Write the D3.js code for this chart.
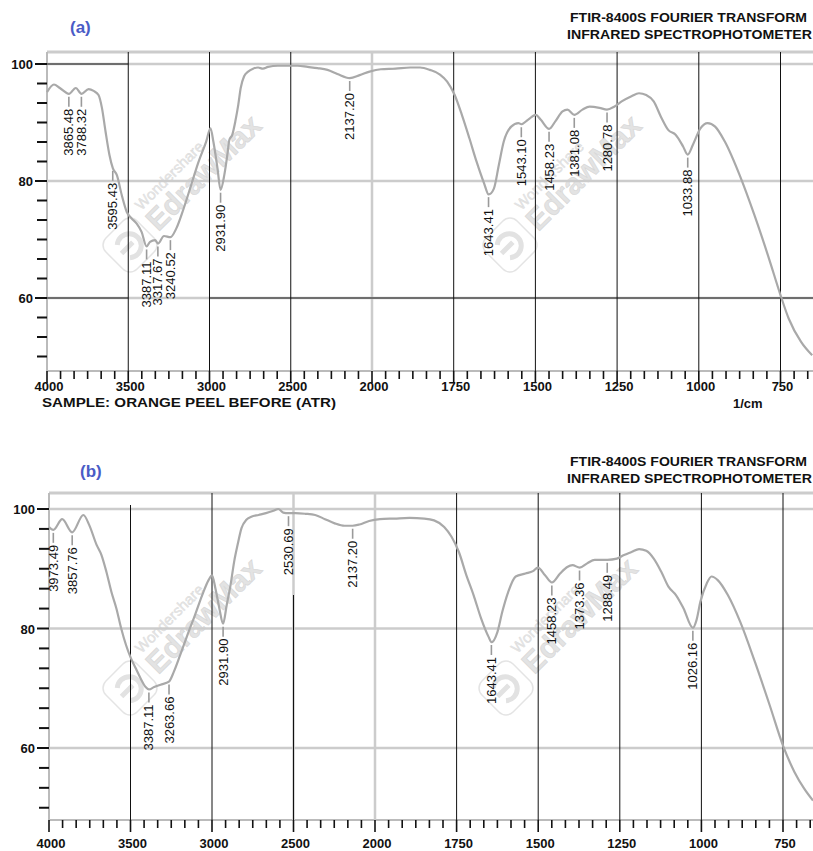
<!DOCTYPE html>
<html>
<head>
<meta charset="utf-8">
<script src="https://cdn.jsdelivr.net/npm/d3@7"></script>
<style>
body { margin: 0; background: #fff; }
svg { display: block; font-family: "Liberation Sans", Arial, sans-serif; }
</style>
</head>
<body>
<script>
// spectrum (a): orange peel before, wavenumber (1/cm) and %T
var wnA = [4000, 3957, 3921, 3865, 3823, 3788, 3744, 3713, 3683, 3662, 3640, 3616, 3595, 3570,
  3540, 3509, 3479, 3448, 3418, 3387, 3366, 3335, 3317, 3280, 3240, 3204, 3159, 3113, 3067,
  3021, 2994, 2976, 2951, 2932, 2909, 2890, 2878, 2860, 2841, 2823, 2808, 2787, 2762, 2732,
  2701, 2671, 2640, 2579, 2518, 2457, 2396, 2335, 2274, 2213, 2137, 2076, 2015, 1973, 1928,
  1883, 1853, 1823, 1792, 1770, 1747, 1725, 1702, 1680, 1657, 1643, 1627, 1612, 1597, 1574,
  1552, 1543, 1522, 1499, 1484, 1458, 1439, 1417, 1402, 1381, 1356, 1334, 1304, 1281, 1259,
  1236, 1206, 1183, 1161, 1138, 1116, 1093, 1071, 1048, 1034, 1018, 995, 973, 950, 920, 875,
  830, 785, 750, 725, 687, 653];
var tA = [95.2, 96.5, 95.9, 94.9, 95.9, 94.9, 95.7, 95.4, 94.7, 92.5, 88.5, 84.5, 82.2, 81.0,
  77.6, 74.7, 73.6, 72.7, 71.3, 68.8, 69.6, 69.9, 69.3, 70.6, 70.4, 71.9, 75.3, 79.3, 83.3,
  86.7, 89.0, 86.7, 82.2, 78.5, 81.0, 84.5, 87.0, 87.9, 90.2, 93.0, 95.9, 97.9, 98.7, 99.2,
  99.4, 99.2, 99.5, 99.7, 99.7, 99.7, 99.5, 99.3, 99.0, 98.3, 97.6, 98.1, 98.7, 99.1, 99.2,
  99.4, 99.4, 99.0, 98.2, 97.0, 94.7, 91.3, 87.3, 83.3, 79.6, 77.7, 78.7, 82.7, 86.7, 89.3,
  89.9, 89.7, 90.5, 91.3, 90.5, 88.9, 90.2, 91.9, 92.2, 91.3, 92.2, 92.7, 92.5, 92.2, 92.7,
  93.6, 94.5, 95.0, 94.7, 93.6, 91.0, 88.7, 87.9, 85.9, 84.5, 86.2, 89.0, 89.9, 89.3, 86.7, 81.0,
  74.2, 66.7, 60.5, 56.5, 52.5, 50.2];
var peaksA = [3865.48, 3788.32, 3595.43, 3387.11, 3317.67, 3240.52, 2931.90, 2137.20,
  1643.41, 1543.10, 1458.23, 1381.08, 1280.78, 1033.88];

// spectrum (b)
var wnB = [4000, 3973, 3919, 3858, 3789, 3753, 3708, 3678, 3648, 3617, 3587, 3557, 3527, 3497,
  3467, 3437, 3407, 3387, 3355, 3316, 3264, 3235, 3196, 3151, 3105, 3060, 3021, 3000, 2979,
  2955, 2932, 2910, 2886, 2864, 2843, 2819, 2789, 2759, 2714, 2669, 2623, 2593, 2563, 2531,
  2488, 2428, 2367, 2307, 2247, 2187, 2137, 2096, 2036, 1985, 1940, 1894, 1849, 1819, 1788,
  1766, 1743, 1720, 1698, 1675, 1652, 1643, 1625, 1610, 1592, 1569, 1539, 1516, 1501, 1479,
  1458, 1433, 1411, 1395, 1373, 1350, 1327, 1288, 1259, 1237, 1214, 1191, 1169, 1146, 1123,
  1101, 1078, 1055, 1026, 1015, 1003, 984, 969, 950, 919, 881, 836, 791, 750, 715, 685, 658];
var tB = [97.0, 96.5, 98.3, 96.1, 99.0, 97.3, 94.0, 92.3, 89.5, 86.1, 83.4, 80.0, 77.2, 75.0,
  73.3, 71.6, 70.2, 69.8, 70.2, 70.6, 71.1, 72.7, 75.5, 78.9, 82.2, 85.6, 88.1, 88.9, 86.7,
  83.4, 80.8, 83.9, 87.3, 91.2, 94.0, 96.8, 98.2, 98.7, 99.0, 99.3, 99.7, 100.0, 99.4, 99.3,
  99.3, 99.2, 99.0, 98.3, 97.6, 97.2, 97.2, 97.4, 98.0, 98.3, 98.4, 98.5, 98.4, 98.1, 97.0,
  95.4, 92.8, 88.9, 85.6, 81.7, 78.6, 77.7, 79.4, 82.8, 86.1, 88.7, 89.2, 89.6, 90.2, 88.9,
  87.7, 89.2, 90.3, 90.6, 90.2, 90.9, 91.5, 91.5, 91.7, 92.3, 92.8, 93.3, 93.0, 91.7, 89.5,
  87.0, 85.6, 83.4, 80.1, 81.4, 84.5, 87.5, 88.7, 88.1, 85.6, 81.1, 74.4, 67.2, 60.4, 56.0, 53.2, 51.2];
var peaksB = [3973.49, 3857.76, 3387.11, 3263.66, 2931.90, 2530.69, 2137.20, 1643.41,
  1458.23, 1373.36, 1288.49, 1026.16];

var xTicks = [4000, 3500, 3000, 2500, 2000, 1750, 1500, 1250, 1000, 750];
var yTicks = [100, 80, 60];
var titleLines = ["FTIR-8400S FOURIER TRANSFORM", "INFRARED SPECTROPHOTOMETER"];
var sampleText = "SAMPLE: ORANGE PEEL BEFORE (ATR)";
var unitText = "1/cm";

var W = 813, H = 851;
var svg = d3.select("body").append("svg").attr("width", W).attr("height", H);

var GRAY = "#cccccc";
var fmt = d3.format(".2f");

var panels = [
  { wn: wnA, t: tA, peaks: peaksA, tag: "(a)", tagX: 70, tagY: 33,
    titleY: 22, left: 47, top: 52, bottom: 371, xr: [47, 372, 780.5], yr: [298, 64],
    tickLabelY: 391, sample: true,
    vBlack: [[3500], [3000], [2500], [1750], [1500], [1250], [1000], [750]],
    vGray: [2000],
    hBlack: [[100, 4000, 3500], [60, 4000, 3500], [60, 3000, 650]],
    marks: [[130, 245], [510, 245]] },
  { wn: wnB, t: tB, peaks: peaksB, tag: "(b)", tagX: 80, tagY: 477,
    titleY: 466, left: 49, top: 493, bottom: 820, xr: [49, 375, 783], yr: [748, 509],
    tickLabelY: 848, sample: false,
    vBlack: [[3500, 505], [3000], [2500, 595], [1750], [1500], [1250], [1000], [750]],
    vGray: [2500, 2000],
    hBlack: [],
    marks: [[130, 688], [506, 688]] }
];

panels.forEach(function(p) {
  var x = d3.scaleLinear().domain([4000, 2000, 750]).range(p.xr);
  var y = d3.scaleLinear().domain([60, 100]).range(p.yr);
  var g = svg.append("g");
  var yMin = y.invert(p.bottom);

  // watermarks sit under everything
  p.marks.forEach(function(m) { watermark(g, m[0], m[1]); });

  // frame
  g.append("line").attr("x1", p.left).attr("x2", W).attr("y1", p.top).attr("y2", p.top)
    .attr("stroke", GRAY).attr("stroke-width", 3);
  g.append("line").attr("x1", p.left).attr("x2", p.left).attr("y1", p.top).attr("y2", p.bottom)
    .attr("stroke", "#bbbbbb").attr("stroke-width", 2);
  g.append("line").attr("x1", p.left).attr("x2", W).attr("y1", p.bottom).attr("y2", p.bottom)
    .attr("stroke", "#bbbbbb").attr("stroke-width", 2);

  // grid
  yTicks.forEach(function(v) {
    g.append("line").attr("x1", p.left).attr("x2", W).attr("y1", y(v)).attr("y2", y(v))
      .attr("stroke", GRAY).attr("stroke-width", 2.5);
  });
  p.vGray.forEach(function(v) {
    g.append("line").attr("x1", x(v)).attr("x2", x(v)).attr("y1", p.top).attr("y2", p.bottom)
      .attr("stroke", GRAY).attr("stroke-width", 2.5);
  });
  p.hBlack.forEach(function(h) {
    g.append("line").attr("x1", x(h[1])).attr("x2", Math.min(W, x(h[2])))
      .attr("y1", y(h[0])).attr("y2", y(h[0])).attr("stroke", "#111").attr("stroke-width", 1);
  });
  p.vBlack.forEach(function(v) {
    g.append("line").attr("x1", x(v[0])).attr("x2", x(v[0]))
      .attr("y1", v[1] || p.top).attr("y2", p.bottom)
      .attr("stroke", "#111").attr("stroke-width", 1);
  });

  // y axis ticks
  var yMinor = d3.range(0, 20).map(function(k) { return 100 - k * 20 / 6; })
    .filter(function(v) { return v > yMin; });
  g.selectAll(".ytick").data(yMinor).enter().append("line")
    .attr("x1", function(d) { return yTicks.indexOf(Math.round(d)) >= 0 && Math.abs(d - Math.round(d)) < 0.01 ? p.left - 12 : p.left - 10; })
    .attr("x2", p.left)
    .attr("y1", function(d) { return y(d); }).attr("y2", function(d) { return y(d); })
    .attr("stroke", "#111").attr("stroke-width", 2);
  g.selectAll(".ylab").data(yTicks).enter().append("text")
    .attr("x", p.left - 14).attr("y", function(d) { return y(d) + 5; })
    .attr("text-anchor", "end").attr("font-size", 13).attr("font-weight", "bold")
    .attr("fill", "#111").text(function(d) { return d; });

  // x axis ticks: six divisions between labelled values
  var xMinor = d3.range(0, 24).map(function(k) { return 4000 - k * 500 / 6; })
    .concat(d3.range(0, 33).map(function(k) { return 2000 - k * 250 / 6; }));
  g.selectAll(".xtick").data(xMinor).enter().append("line")
    .attr("x1", function(d) { return x(d); }).attr("x2", function(d) { return x(d); })
    .attr("y1", p.bottom)
    .attr("y2", function(d) { return xTicks.indexOf(Math.round(d)) >= 0 && Math.abs(d - Math.round(d)) < 0.01 ? p.bottom + 12 : p.bottom + 8; })
    .attr("stroke", "#111").attr("stroke-width", 1.6);
  g.selectAll(".xlab").data(xTicks).enter().append("text")
    .attr("x", function(d) { return x(d) + 2; }).attr("y", p.tickLabelY)
    .attr("text-anchor", "middle").attr("font-size", 13).attr("font-weight", "bold")
    .attr("fill", "#111").text(function(d) { return d; });

  // spectrum
  var pts = p.wn.map(function(w, i) { return [x(w), y(p.t[i])]; });
  g.append("path").attr("d", d3.line().curve(d3.curveMonotoneX)(pts))
    .attr("fill", "none").attr("stroke", "#a9a9a9").attr("stroke-width", 2.2)
    .attr("stroke-linejoin", "round");

  // peak labels
  p.peaks.forEach(function(pk) {
    var cy = y(tAt(pk, p.wn, p.t));
    var top = cy + 15;
    g.append("line").attr("x1", x(pk)).attr("x2", x(pk)).attr("y1", cy + 3).attr("y2", top - 2)
      .attr("stroke", "#9a9a9a").attr("stroke-width", 1.6);
    g.append("text").attr("transform", "translate(" + x(pk) + "," + top + ") rotate(-90)")
      .attr("text-anchor", "end").attr("dominant-baseline", "central")
      .attr("font-size", 13).attr("fill", "#111").text(fmt(pk));
  });

  // header
  g.append("text").attr("x", p.tagX).attr("y", p.tagY).attr("font-size", 17)
    .attr("font-weight", "bold").attr("fill", "#4a5cc6").text(p.tag);
  g.append("text").attr("x", 807).attr("y", p.titleY).attr("text-anchor", "end")
    .attr("font-size", 13).attr("font-weight", "bold").attr("fill", "#111")
    .attr("textLength", 237).attr("lengthAdjust", "spacingAndGlyphs").text(titleLines[0]);
  g.append("text").attr("x", 812).attr("y", p.titleY + 17).attr("text-anchor", "end")
    .attr("font-size", 13).attr("font-weight", "bold").attr("fill", "#111")
    .attr("textLength", 245).attr("lengthAdjust", "spacingAndGlyphs").text(titleLines[1]);

  if (p.sample) {
    g.append("text").attr("x", 42).attr("y", 407).attr("font-size", 13).attr("font-weight", "bold")
      .attr("fill", "#111").attr("textLength", 294).attr("lengthAdjust", "spacingAndGlyphs")
      .text(sampleText);
    g.append("text").attr("x", 733).attr("y", 408).attr("font-size", 13).attr("font-weight", "bold")
      .attr("fill", "#111").text(unitText);
  }
});

function tAt(w, ws, ts) {
  for (var i = 0; i < ws.length - 1; i++) {
    if (w <= ws[i] && w >= ws[i + 1]) {
      var f = (ws[i] - w) / (ws[i] - ws[i + 1]);
      return ts[i] + f * (ts[i + 1] - ts[i]);
    }
  }
  return ts[ts.length - 1];
}

function watermark(parent, cx, cy) {
  var m = parent.append("g").attr("transform", "translate(" + cx + "," + cy + ") rotate(-45)");
  m.append("rect").attr("x", -22).attr("y", -22).attr("width", 44).attr("height", 44).attr("rx", 10)
    .attr("fill", "none").attr("stroke", "#e4e4e4").attr("stroke-width", 1.5);
  m.append("path").attr("d", "M-9,-9 A12,12 0 1,1 -9,9 M-12,0 L4,0")
    .attr("fill", "none").attr("stroke", "#e2e2e2").attr("stroke-width", 5);
  m.append("text").attr("x", 29).attr("y", 11).attr("font-size", 30).attr("font-weight", "bold")
    .attr("fill", "#e3e3e3").attr("stroke", "#d6d6d6").attr("stroke-width", 0.6).text("EdrawMax");
  m.append("text").attr("x", 32).attr("y", -16).attr("font-size", 15)
    .attr("fill", "#e6e6e6").attr("stroke", "#dadada").attr("stroke-width", 0.4).text("Wondershare");
}
</script>
</body>
</html>
